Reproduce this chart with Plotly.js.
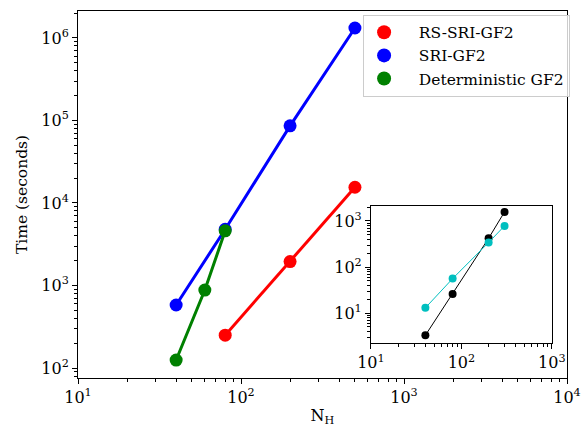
<!DOCTYPE html>
<html><head><meta charset="utf-8">
<script src="https://cdn.plot.ly/plotly-3.0.1.min.js"></script>
<style>body{margin:0;background:#fff}#c{width:584px;height:427px}</style>
</head><body><div id="c"></div>
<script>
// Main chart data
const nH_rs = [80, 200, 500];
const time_rs = [250, 1950, 15500];
const nH_sri = [40, 80, 200, 500];
const time_sri = [580, 4800, 86000, 1320000];
const nH_det = [40, 60, 80];
const time_det = [125, 880, 4600];
// Inset data
const nH_inset = [40, 80, 200, 300];
const inset_black = [3.3, 26, 420, 1570];
const inset_cyan = [13, 56, 340, 780];
// Labels
const seriesNames = ['RS-SRI-GF2', 'SRI-GF2', 'Deterministic GF2'];
const mainXTicks = [10, 100, 1000, 10000];
const mainXLabels = ['10<sup>1</sup>', '10<sup>2</sup>', '10<sup>3</sup>', '10<sup>4</sup>'];
const mainYTicks = [100, 1000, 10000, 100000, 1000000];
const mainYLabels = ['10<sup>2</sup>', '10<sup>3</sup>', '10<sup>4</sup>', '10<sup>5</sup>', '10<sup>6</sup>'];
const insetXTicks = [10, 100, 1000];
const insetXLabels = ['10<sup>1</sup>', '10<sup>2</sup>', '10<sup>3</sup>'];
const insetYTicks = [10, 100, 1000];
const insetYLabels = ['10<sup>1</sup>', '10<sup>2</sup>', '10<sup>3</sup>'];

function minors(lo, hi) {
  const v = [];
  for (let e = lo; e < hi; e++) for (let m = 2; m <= 9; m++) v.push(m * Math.pow(10, e));
  return v;
}
const F = 'DejaVu Serif';
const colors = ['#ff0000', '#0000ff', '#008000'];
const traces = [
  {x: nH_rs, y: time_rs, mode: 'lines+markers', line: {color: colors[0], width: 3}, marker: {size: 13, color: colors[0]}, showlegend: false},
  {x: nH_sri, y: time_sri, mode: 'lines+markers', line: {color: colors[1], width: 3}, marker: {size: 13, color: colors[1]}, showlegend: false},
  {x: nH_det, y: time_det, mode: 'lines+markers', line: {color: colors[2], width: 3}, marker: {size: 13, color: colors[2]}, showlegend: false},
  {x: nH_inset, y: inset_black, mode: 'lines+markers', xaxis: 'x2', yaxis: 'y2', line: {color: '#000', width: 1}, marker: {size: 8, color: '#000'}, showlegend: false},
  {x: nH_inset, y: inset_cyan, mode: 'lines+markers', xaxis: 'x2', yaxis: 'y2', line: {color: '#00bfbf', width: 1}, marker: {size: 8, color: '#00bfbf'}, showlegend: false}
];
const pad = '\u00a0\u00a0\u00a0';
seriesNames.forEach((n, i) => traces.push({x: [null], y: [null], mode: 'markers', name: pad + n, legendgroup: 'g' + i, marker: {size: 14, color: colors[i]}, showlegend: true}));

const axCommon = {type: 'log', showgrid: false, zeroline: false, showline: true, linecolor: '#000', linewidth: 1, mirror: true,
  ticks: 'outside', ticklen: 5, tickwidth: 1, tickcolor: '#000', tickmode: 'array', tickfont: {family: F, size: 16, color: '#000'}};
const layout = {
  width: 584, height: 427, paper_bgcolor: '#fff', plot_bgcolor: '#fff',
  margin: {l: 78, r: 17, t: 11, b: 49},
  font: {family: F, color: '#000'},
  xaxis: Object.assign({}, axCommon, {range: [1, 4], tickvals: mainXTicks, ticktext: mainXLabels,
    minor: {tickmode: 'array', tickvals: minors(1, 4), ticks: 'outside', ticklen: 3, tickcolor: '#000'},
    title: {text: 'N<sub>H</sub>', font: {family: F, size: 16, color: '#000'}, standoff: 6}}),
  yaxis: Object.assign({}, axCommon, {range: [Math.log10(75.7), Math.log10(2.12e6)], tickvals: mainYTicks, ticktext: mainYLabels,
    minor: {tickmode: 'array', tickvals: minors(1, 7), ticks: 'outside', ticklen: 3, tickcolor: '#000'},
    title: {text: 'Time (seconds)', font: {family: F, size: 15.5, color: '#000'}, standoff: 9}}),
  xaxis2: Object.assign({}, axCommon, {domain: [0.599, 0.969], anchor: 'y2', range: [1, 3], tickvals: insetXTicks, ticktext: insetXLabels,
    minor: {tickmode: 'array', tickvals: minors(1, 3), ticks: 'outside', ticklen: 3, tickcolor: '#000'}}),
  yaxis2: Object.assign({}, axCommon, {domain: [0.095, 0.469], anchor: 'x2', range: [Math.log10(2.23), Math.log10(2120)], tickvals: insetYTicks, ticktext: insetYLabels,
    minor: {tickmode: 'array', tickvals: minors(0, 4), ticks: 'outside', ticklen: 3, tickcolor: '#000'}}),
  shapes: [{type: 'rect', xref: 'paper', yref: 'paper', x0: 0.599, x1: 0.969, y0: 0.095, y1: 0.469, fillcolor: '#fff', line: {width: 0}, layer: 'below'}],
  legend: {x: 0.583, y: 0.99, xanchor: 'left', yanchor: 'top', bgcolor: 'rgba(255,255,255,0.8)', bordercolor: '#cccccc', borderwidth: 1,
    font: {family: F, size: 15.5, color: '#000'}, tracegroupgap: 0, itemwidth: 30}
};
Plotly.newPlot('c', traces, layout, {displayModeBar: false, staticPlot: true});
</script></body></html>
